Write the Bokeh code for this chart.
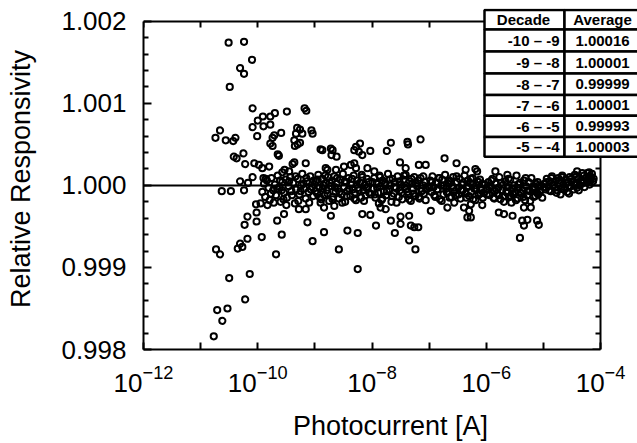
from bokeh.plotting import figure
from bokeh.models import (FixedTicker, LogAxis, LinearAxis, PrintfTickFormatter,
                          LogTickFormatter, BoxAnnotation, Label, Range1d)
from bokeh.embed import file_html
from bokeh.resources import INLINE

FONT = "Liberation Sans"

# ---------------- data ----------------
X_TICKS = [1e-12, 1e-10, 1e-8, 1e-6, 1e-4]
X_MINOR = [1e-11, 1e-9, 1e-7, 1e-5]
Y_TICKS = [0.998, 0.999, 1.000, 1.001, 1.002]
Y_MINOR = [0.9982, 0.9984, 0.9986, 0.9988, 0.9992, 0.9994, 0.9996, 0.9998,
           1.0002, 1.0004, 1.0006, 1.0008, 1.0012, 1.0014, 1.0016, 1.0018]
X_LIMITS = (1e-12, 1e-4)
Y_LIMITS = (0.998, 1.002)
REF_LEVEL = 1.0

table_header = ["Decade", "Average"]
table_decades = ["-10 \u2013 -9", "-9 \u2013 -8", "-8 \u2013 -7",
                 "-7 \u2013 -6", "-6 \u2013 -5", "-5 \u2013 -4"]
table_averages = ["1.00016", "1.00001", "0.99999", "1.00001", "0.99993", "1.00003"]

# (log10 photocurrent, relative responsivity)
low_current_points = [
    (-10.51, 1.00174), (-10.24, 1.00175), (-10.10, 1.00153), (-10.31, 1.00143), (-10.24, 1.00136),
    (-10.49, 1.00120), (-10.09, 1.00094), (-9.70, 1.00088), (-9.78, 1.00084), (-9.49, 1.00090),
    (-9.18, 1.00094), (-9.15, 1.00091), (-10.66, 1.00067), (-10.74, 1.00058), (-10.56, 1.00055),
    (-10.39, 1.00058), (-10.43, 1.00054), (-10.00, 1.00079), (-10.09, 1.00071), (-9.90, 1.00072),
    (-9.78, 1.00074), (-10.01, 1.00060), (-9.71, 1.00061), (-9.74, 1.00058), (-9.59, 1.00064),
    (-9.78, 1.00051), (-9.74, 1.00048), (-9.31, 1.00070), (-9.26, 1.00068), (-9.33, 1.00063),
    (-9.22, 1.00063), (-9.06, 1.00067), (-9.04, 1.00063), (-9.36, 1.00055), (-9.30, 1.00050),
    (-9.26, 1.00052), (-9.35, 1.00048), (-10.42, 1.00035), (-10.37, 1.00033), (-10.25, 1.00039),
    (-9.65, 1.00038), (-9.63, 1.00036), (-10.22, 1.00026), (-10.06, 1.00027), (-9.98, 1.00025),
    (-9.92, 1.00021), (-9.80, 1.00023), (-9.36, 1.00028), (-9.39, 1.00026), (-9.16, 1.00027),
    (-9.53, 1.00019), (-9.45, 1.00017), (-9.57, 1.00016), (-8.90, 1.00044), (-8.72, 1.00045),
    (-8.62, 1.00035), (-8.71, 1.00037), (-8.81, 1.00021), (-8.78, 1.00019), (-10.09, 1.00010),
    (-9.90, 1.00009), (-10.31, 1.00005), (-10.17, 1.00003), (-10.63, 0.99993), (-10.47, 0.99993),
    (-10.24, 0.99994), (-10.03, 0.99977), (-10.02, 0.99967), (-10.18, 0.99962), (-10.23, 0.99952),
    (-10.02, 0.99956), (-10.73, 0.99922), (-10.66, 0.99916), (-10.35, 0.99923), (-10.31, 0.99929),
    (-10.27, 0.99925), (-10.18, 0.99935), (-9.93, 0.99937), (-9.58, 0.99940), (-9.68, 0.99916),
    (-9.66, 0.99957), (-9.13, 0.99955), (-9.04, 0.99932), (-8.84, 0.99943), (-8.58, 0.99922),
    (-10.50, 0.99887), (-10.14, 0.99892), (-10.22, 0.99861), (-10.71, 0.99848), (-10.53, 0.99850),
    (-10.62, 0.99835), (-10.77, 0.99816), (-9.91, 1.00084),
]

fringe_points = [
    (-8.87, 1.00043), (-8.69, 1.00043), (-8.28, 1.00047), (-8.23, 1.00041), (-8.17, 1.00037),
    (-8.63, 1.00019), (-8.49, 1.00023), (-8.31, 1.00027), (-8.28, 1.00021), (-9.28, 0.99971),
    (-9.16, 0.99971), (-8.84, 0.99973), (-8.66, 0.99975), (-9.54, 0.99965), (-8.72, 0.99963),
    (-8.17, 0.99965), (-8.43, 0.99945), (-8.25, 0.99942), (-8.21, 1.00051), (-8.31, 1.00043),
    (-8.03, 1.00042), (-7.67, 1.00052), (-7.74, 1.00042), (-7.38, 1.00053), (-7.37, 1.00050),
    (-7.15, 1.00056), (-6.73, 1.00033), (-6.52, 1.00027), (-7.51, 1.00028), (-7.41, 1.00021),
    (-7.18, 1.00025), (-7.06, 1.00025), (-8.08, 1.00021), (-7.96, 1.00017), (-6.36, 1.00019),
    (-6.19, 1.00020), (-6.16, 1.00017), (-8.37, 1.00025), (-8.03, 0.99964), (-7.93, 0.99951),
    (-8.25, 0.99898), (-7.67, 0.99957), (-7.50, 0.99962), (-7.35, 0.99963), (-7.32, 0.99951),
    (-7.19, 0.99949), (-7.50, 0.99953), (-7.60, 0.99942), (-7.35, 0.99933), (-7.24, 0.99922),
    (-7.85, 0.99973), (-7.76, 0.99971), (-6.97, 0.99969), (-6.68, 0.99973), (-6.33, 0.99961),
    (-6.27, 0.99961), (-6.30, 0.99969), (-5.69, 0.99965), (-5.54, 0.99963), (-5.78, 0.99967),
    (-5.34, 0.99973), (-5.22, 0.99973), (-5.37, 0.99957), (-5.34, 0.99951), (-5.11, 0.99957),
    (-5.08, 0.99952), (-5.41, 0.99936), (-6.39, 0.99973), (-6.27, 0.99977), (-6.07, 0.99976),
    (-5.28, 0.99958), (-5.84, 1.00017), (-5.63, 1.00013), (-4.41, 1.00017), (-4.23, 1.00015),
    (-7.26, 0.99949),
]

decade_10_9 = [
    (-9.92, 0.99992), (-9.89, 1.00002), (-9.87, 0.99986), (-9.84, 1.00006), (-9.81, 0.99997),
    (-9.79, 0.99982), (-9.76, 1.00009), (-9.73, 0.99994), (-9.70, 1.00001), (-9.68, 0.99988),
    (-9.65, 1.00012), (-9.62, 0.99998), (-9.60, 0.99980), (-9.57, 1.00004), (-9.54, 0.99991),
    (-9.51, 1.00007), (-9.49, 0.99985), (-9.46, 0.99999), (-9.43, 1.00010), (-9.41, 0.99993),
    (-9.38, 1.00003), (-9.35, 0.99978), (-9.33, 0.99995), (-9.30, 1.00008), (-9.27, 0.99989),
    (-9.24, 1.00000), (-9.22, 1.00014), (-9.19, 0.99996), (-9.16, 0.99984), (-9.14, 1.00005),
    (-9.11, 0.99992), (-9.08, 1.00011), (-9.05, 0.99998), (-9.03, 0.99987),
    (-9.95, 0.99978), (-9.86, 1.00008), (-9.77, 0.99990), (-9.72, 0.99979), (-9.66, 0.99996),
    (-9.61, 1.00006), (-9.55, 0.99983), (-9.50, 0.99976), (-9.45, 1.00005), (-9.40, 0.99988),
    (-9.34, 1.00011), (-9.29, 0.99981), (-9.25, 0.99993), (-9.20, 1.00002), (-9.15, 1.00009),
    (-9.10, 0.99979), (-9.07, 0.99995), (-9.02, 1.00006), (-9.83, 0.99976), (-9.58, 0.99994),
]

decade_9_8 = [
    (-8.98, 1.00005), (-8.96, 0.99990), (-8.94, 1.00013), (-8.92, 0.99997), (-8.89, 0.99983),
    (-8.87, 1.00008), (-8.85, 1.00000), (-8.83, 0.99988), (-8.81, 1.00003), (-8.79, 0.99994),
    (-8.77, 1.00010), (-8.75, 0.99981), (-8.72, 0.99999), (-8.70, 1.00006), (-8.68, 0.99986),
    (-8.66, 1.00011), (-8.64, 0.99992), (-8.62, 1.00002), (-8.60, 0.99996), (-8.58, 0.99984),
    (-8.55, 1.00007), (-8.53, 0.99989), (-8.51, 1.00014), (-8.49, 0.99998), (-8.47, 0.99980),
    (-8.45, 1.00004), (-8.43, 0.99993), (-8.41, 1.00009), (-8.38, 0.99987), (-8.36, 1.00001),
    (-8.34, 0.99995), (-8.32, 1.00012), (-8.30, 0.99991), (-8.28, 0.99982), (-8.26, 1.00006),
    (-8.24, 0.99997), (-8.21, 1.00003), (-8.19, 0.99985), (-8.17, 1.00010), (-8.15, 0.99994),
    (-8.13, 1.00000), (-8.11, 0.99988), (-8.09, 1.00008), (-8.07, 0.99998), (-8.05, 0.99991),
    (-8.99, 0.99993), (-8.95, 1.00007), (-8.91, 0.99985), (-8.86, 0.99996), (-8.82, 1.00012),
    (-8.78, 0.99990), (-8.74, 1.00003), (-8.69, 0.99983), (-8.65, 0.99998), (-8.61, 1.00009),
    (-8.57, 0.99992), (-8.52, 0.99979), (-8.48, 1.00005), (-8.44, 0.99987), (-8.40, 0.99996),
    (-8.35, 1.00008), (-8.31, 0.99984), (-8.27, 1.00001), (-8.23, 0.99994), (-8.18, 1.00013),
    (-8.14, 0.99981), (-8.10, 0.99997), (-8.06, 1.00004), (-8.02, 0.99989), (-8.90, 0.99979),
]

decade_8_7 = [
    (-7.98, 0.99996), (-7.96, 1.00009), (-7.94, 0.99985), (-7.92, 1.00002), (-7.89, 0.99991),
    (-7.87, 1.00012), (-7.85, 0.99999), (-7.83, 0.99982), (-7.81, 1.00006), (-7.79, 0.99993),
    (-7.77, 1.00003), (-7.75, 0.99988), (-7.72, 1.00014), (-7.70, 0.99995), (-7.68, 1.00000),
    (-7.66, 0.99980), (-7.64, 1.00008), (-7.62, 0.99990), (-7.60, 1.00004), (-7.58, 0.99997),
    (-7.55, 1.00011), (-7.53, 0.99986), (-7.51, 0.99994), (-7.49, 1.00001), (-7.47, 0.99983),
    (-7.45, 1.00007), (-7.43, 0.99998), (-7.41, 1.00013), (-7.38, 0.99992), (-7.36, 0.99989),
    (-7.34, 1.00005), (-7.32, 0.99981), (-7.30, 1.00002), (-7.28, 0.99996), (-7.26, 1.00010),
    (-7.24, 0.99987), (-7.21, 0.99999), (-7.19, 1.00006), (-7.17, 0.99984), (-7.15, 1.00009),
    (-7.13, 0.99993), (-7.11, 1.00000), (-7.09, 0.99990), (-7.07, 1.00004), (-7.05, 0.99995),
    (-7.99, 1.00004), (-7.95, 0.99989), (-7.91, 0.99997), (-7.86, 1.00010), (-7.82, 0.99984),
    (-7.78, 1.00001), (-7.74, 0.99993), (-7.69, 1.00007), (-7.65, 0.99987), (-7.61, 0.99998),
    (-7.57, 0.99979), (-7.52, 1.00005), (-7.48, 0.99991), (-7.44, 1.00012), (-7.40, 0.99995),
    (-7.35, 0.99983), (-7.31, 1.00008), (-7.27, 0.99990), (-7.23, 1.00002), (-7.18, 0.99986),
    (-7.14, 0.99996), (-7.10, 1.00011), (-7.06, 0.99982), (-7.02, 0.99999), (-7.88, 0.99978),
]

decade_7_6 = [
    (-6.98, 1.00006), (-6.96, 0.99992), (-6.94, 1.00011), (-6.92, 0.99998), (-6.89, 0.99986),
    (-6.87, 1.00003), (-6.85, 0.99995), (-6.83, 1.00009), (-6.81, 0.99983), (-6.79, 1.00000),
    (-6.77, 1.00007), (-6.75, 0.99989), (-6.72, 1.00013), (-6.70, 0.99996), (-6.68, 0.99991),
    (-6.66, 1.00002), (-6.64, 0.99985), (-6.62, 1.00005), (-6.60, 0.99999), (-6.58, 1.00010),
    (-6.55, 0.99993), (-6.53, 0.99988), (-6.51, 1.00004), (-6.49, 0.99997), (-6.47, 1.00008),
    (-6.45, 0.99984), (-6.43, 1.00001), (-6.41, 0.99994), (-6.38, 1.00012), (-6.36, 0.99990),
    (-6.34, 0.99998), (-6.32, 1.00006), (-6.30, 0.99987), (-6.28, 1.00003), (-6.26, 0.99992),
    (-6.24, 1.00009), (-6.21, 0.99996), (-6.19, 0.99982), (-6.17, 1.00000), (-6.15, 1.00005),
    (-6.13, 0.99989), (-6.11, 1.00007), (-6.09, 0.99994), (-6.07, 1.00002), (-6.05, 0.99991),
    (-6.99, 0.99997), (-6.95, 1.00004), (-6.91, 0.99988), (-6.86, 0.99995), (-6.82, 1.00009),
    (-6.78, 0.99981), (-6.74, 1.00000), (-6.69, 0.99992), (-6.65, 1.00006), (-6.61, 0.99986),
    (-6.57, 0.99997), (-6.52, 1.00011), (-6.48, 0.99989), (-6.44, 0.99994), (-6.40, 1.00003),
    (-6.35, 0.99985), (-6.31, 0.99999), (-6.27, 1.00008), (-6.23, 0.99983), (-6.18, 0.99996),
    (-6.14, 1.00004), (-6.10, 0.99990), (-6.06, 0.99985), (-6.02, 1.00001), (-6.56, 0.99979),
]

decade_6_5 = [
    (-5.98, 0.99995), (-5.96, 1.00004), (-5.94, 0.99988), (-5.92, 0.99999), (-5.89, 1.00008),
    (-5.87, 0.99985), (-5.85, 0.99993), (-5.83, 1.00002), (-5.81, 0.99990), (-5.79, 0.99997),
    (-5.77, 1.00010), (-5.75, 0.99983), (-5.72, 0.99994), (-5.70, 1.00001), (-5.68, 0.99987),
    (-5.66, 1.00005), (-5.64, 0.99991), (-5.62, 0.99998), (-5.60, 0.99986), (-5.58, 1.00007),
    (-5.55, 0.99996), (-5.53, 0.99989), (-5.51, 1.00000), (-5.49, 0.99992), (-5.47, 1.00012),
    (-5.45, 0.99984), (-5.43, 0.99997), (-5.41, 1.00003), (-5.38, 0.99990), (-5.36, 0.99994),
    (-5.34, 1.00006), (-5.32, 0.99982), (-5.30, 0.99999), (-5.28, 0.99988), (-5.26, 1.00004),
    (-5.24, 0.99993), (-5.21, 1.00009), (-5.19, 0.99995), (-5.17, 0.99986), (-5.15, 0.99998),
    (-5.13, 1.00002), (-5.11, 0.99991), (-5.09, 0.99989), (-5.07, 1.00000), (-5.05, 0.99994),
    (-5.99, 0.99989), (-5.95, 0.99998), (-5.91, 1.00006), (-5.86, 0.99984), (-5.82, 0.99995),
    (-5.78, 0.99988), (-5.74, 1.00003), (-5.69, 0.99980), (-5.65, 0.99993), (-5.61, 1.00008),
    (-5.57, 0.99987), (-5.52, 0.99996), (-5.48, 0.99982), (-5.44, 1.00001), (-5.40, 0.99991),
    (-5.35, 0.99986), (-5.31, 1.00009), (-5.27, 0.99994), (-5.23, 0.99981), (-5.18, 0.99997),
    (-5.14, 0.99987), (-5.10, 1.00004), (-5.06, 0.99992), (-5.02, 0.99985), (-5.56, 0.99979),
]

decade_5_4 = [
    (-4.98, 1.00002), (-4.96, 0.99995), (-4.94, 1.00008), (-4.91, 0.99999), (-4.89, 1.00005),
    (-4.87, 0.99993), (-4.85, 1.00011), (-4.83, 1.00000), (-4.80, 0.99997), (-4.78, 1.00006),
    (-4.76, 0.99994), (-4.74, 1.00009), (-4.72, 1.00003), (-4.69, 0.99996), (-4.67, 1.00012),
    (-4.65, 1.00001), (-4.63, 0.99998), (-4.61, 1.00007), (-4.58, 0.99992), (-4.56, 1.00004),
    (-4.54, 1.00010), (-4.52, 0.99999), (-4.50, 1.00005), (-4.47, 0.99995), (-4.45, 1.00013),
    (-4.43, 1.00002), (-4.41, 0.99997), (-4.39, 1.00008), (-4.36, 1.00000), (-4.34, 1.00006),
    (-4.32, 1.00015), (-4.30, 1.00003), (-4.28, 0.99998), (-4.25, 1.00009), (-4.23, 1.00004),
    (-4.21, 1.00011), (-4.19, 1.00001), (-4.17, 1.00007), (-4.15, 1.00014), (-4.13, 1.00005),
    (-4.99, 0.99998), (-4.95, 1.00004), (-4.90, 0.99994), (-4.86, 1.00009), (-4.82, 1.00001),
    (-4.77, 0.99991), (-4.73, 1.00006), (-4.68, 1.00010), (-4.64, 0.99995), (-4.60, 1.00003),
    (-4.55, 0.99990), (-4.51, 1.00008), (-4.46, 1.00001), (-4.42, 1.00011), (-4.38, 0.99994),
    (-4.33, 1.00004), (-4.29, 1.00012), (-4.24, 1.00006), (-4.20, 1.00016), (-4.16, 1.00010),
    (-4.12, 1.00008), (-4.70, 0.99989),
]

all_points = (low_current_points + fringe_points + decade_10_9 + decade_9_8 +
              decade_8_7 + decade_7_6 + decade_6_5 + decade_5_4)
photocurrent = [10 ** e for e, _ in all_points]
responsivity = [r for _, r in all_points]

# ---------------- layout (page pixels; the figure sits at ORIGIN on the page) ----------------
ORIGIN_X, ORIGIN_Y = 0, 0
W, H = 637, 443
AX_L, AX_R, AX_T, AX_B = 143, 600, 21, 354      # where the axes box lies on the page
FRAME_T = 8                                      # frame extended up/right to hold the table
DEC_PX = (AX_R - AX_L) / 8.0
UNIT_PX = (AX_B - AX_T) / 4.0                    # pixels per 0.001
frame_right_page = ORIGIN_X + W
x_end = 10 ** (-4 + (frame_right_page - AX_R) / DEC_PX)
y_top = Y_LIMITS[1] + (AX_T - FRAME_T) / UNIT_PX * 0.001

p = figure(width=W, height=H, x_axis_type="log",
           x_range=Range1d(X_LIMITS[0], x_end), y_range=Range1d(Y_LIMITS[0], y_top),
           output_backend="svg", toolbar_location=None,
           min_border_left=AX_L - ORIGIN_X, min_border_right=0,
           min_border_top=FRAME_T - ORIGIN_Y, min_border_bottom=H - (AX_B - ORIGIN_Y))
p.grid.visible = False
p.outline_line_color = None
p.background_fill_color = "white"
p.border_fill_color = "white"


def style_axis(ax, tick_in, minor_in):
    ax.axis_line_color = "black"
    ax.axis_line_width = 2
    ax.major_tick_line_color = "black"
    ax.major_tick_line_width = 2
    ax.minor_tick_line_color = "black"
    ax.minor_tick_line_width = 2
    ax.major_tick_in = tick_in
    ax.major_tick_out = 0
    ax.minor_tick_in = minor_in
    ax.minor_tick_out = 0


def hide_labels(ax):
    ax.major_label_text_font_size = "1px"
    ax.major_label_text_alpha = 0
    ax.major_label_standoff = 0


xa = p.xaxis[0]
xa.ticker = FixedTicker(ticks=X_TICKS, minor_ticks=X_MINOR)
xa.formatter = LogTickFormatter()
xa.bounds = X_LIMITS
style_axis(xa, 7, 7)
xa.major_label_text_font = FONT
xa.major_label_text_font_size = "26px"
xa.major_label_text_color = "black"
xa.major_label_standoff = 15
xa.axis_label = "Photocurrent [A]"
xa.axis_label_text_font = FONT
xa.axis_label_text_font_size = "27px"
xa.axis_label_text_font_style = "normal"
xa.axis_label_text_color = "black"
xa.axis_label_standoff = 16

ya = p.yaxis[0]
ya.ticker = FixedTicker(ticks=Y_TICKS, minor_ticks=Y_MINOR)
ya.formatter = PrintfTickFormatter(format="%.3f")
ya.bounds = Y_LIMITS
style_axis(ya, 8, 5)
ya.major_label_text_font = FONT
ya.major_label_text_font_size = "26px"
ya.major_label_text_color = "black"
ya.major_label_standoff = 17
ya.axis_label = "Relative Responsivity"
ya.axis_label_text_font = FONT
ya.axis_label_text_font_size = "27px"
ya.axis_label_text_font_style = "normal"
ya.axis_label_text_color = "black"
ya.axis_label_standoff = 22

top_axis = LogAxis(ticker=FixedTicker(ticks=X_TICKS, minor_ticks=X_MINOR),
                   fixed_location=Y_LIMITS[1], bounds=X_LIMITS)
style_axis(top_axis, 6, 6)
hide_labels(top_axis)
p.add_layout(top_axis, "above")

right_axis = LinearAxis(ticker=FixedTicker(ticks=Y_TICKS, minor_ticks=Y_MINOR),
                        fixed_location=X_LIMITS[1], bounds=Y_LIMITS)
style_axis(right_axis, 8, 5)
hide_labels(right_axis)
p.add_layout(right_axis, "right")

# reference line at unity responsivity across the axes box
p.segment(x0=[X_LIMITS[0]], x1=[X_LIMITS[1]], y0=[REF_LEVEL], y1=[REF_LEVEL],
          line_color="black", line_width=2, level="underlay")

p.scatter(photocurrent, responsivity, marker="circle", size=6.2,
          fill_color=None, line_color="black", line_width=2)


# ---------------- table (placed in page pixels, converted to data) ----------------
def px2x(px):
    return 10 ** (-12 + (px - AX_L) / DEC_PX)


def py2y(py):
    return Y_LIMITS[1] - (py - AX_T) / UNIT_PX * 0.001


T_LEFT, T_MID, T_RIGHT = 484, 564, 700
row_lines = [9.5, 29.3, 51.7, 74.0, 95.7, 116.7, 138.3, 158.3]

for i in range(len(row_lines) - 1):
    for (l, r) in ((T_LEFT, T_MID), (T_MID, T_RIGHT)):
        p.add_layout(BoxAnnotation(left=px2x(l), right=px2x(r),
                                   top=py2y(row_lines[i]), bottom=py2y(row_lines[i + 1]),
                                   fill_color="white", fill_alpha=1.0,
                                   line_color="black", line_width=2.5, line_alpha=1.0))


def cell_label(text, px, row, align):
    yc = (row_lines[row] + row_lines[row + 1]) / 2
    return Label(x=px2x(px), y=py2y(yc), text=text, text_font=FONT,
                 text_font_size="15px", text_font_style="bold", text_color="black",
                 text_align=align, text_baseline="middle")


p.add_layout(cell_label(table_header[0], 523, 0, "center"))
p.add_layout(cell_label(table_header[1], 602, 0, "center"))
for i, (d, a) in enumerate(zip(table_decades, table_averages)):
    p.add_layout(cell_label(d, 559, i + 1, "right"))
    p.add_layout(cell_label(a, 602, i + 1, "center"))

open("out.html", "w").write(file_html(p, INLINE))
